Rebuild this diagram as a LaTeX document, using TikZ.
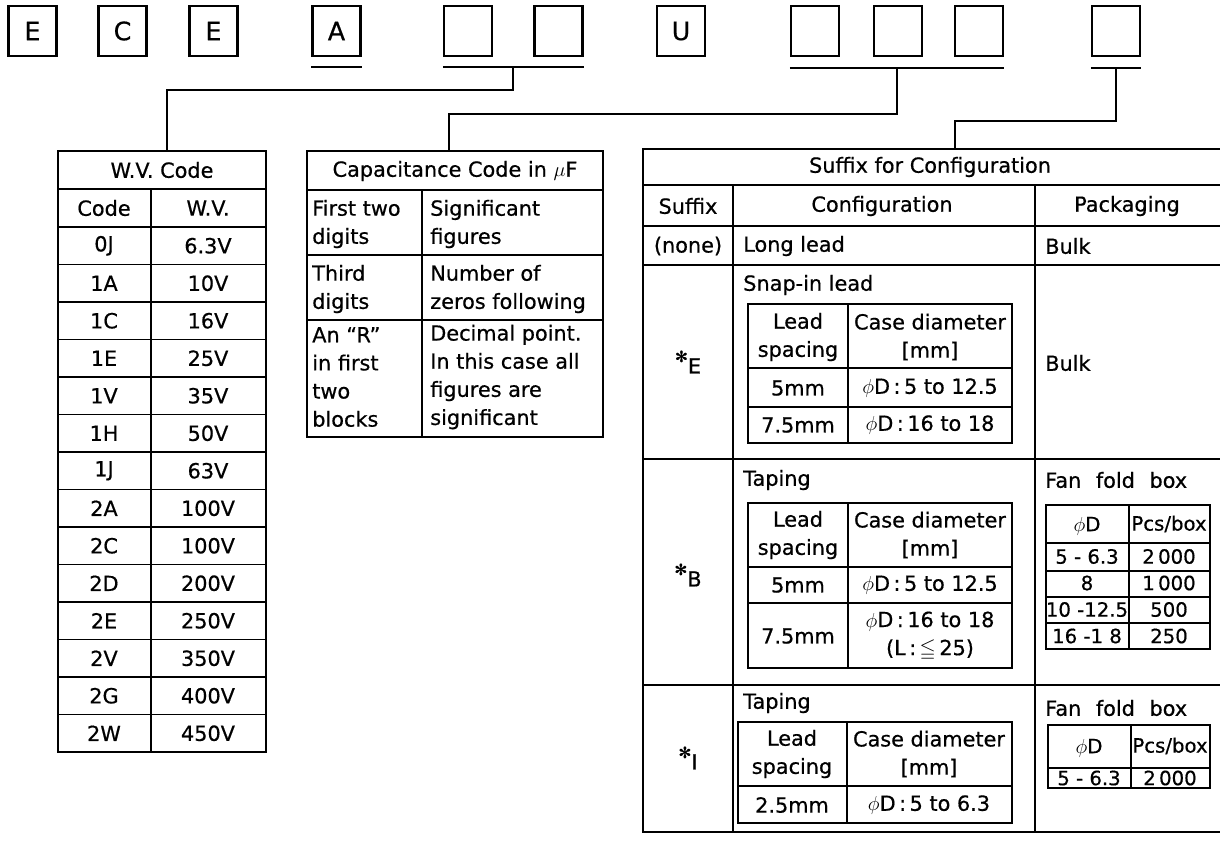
\documentclass[tikz,border=0pt]{standalone}
\usepackage{fontspec,amssymb}
\setmainfont{DejaVu Sans}[FakeBold=0.6]
\usetikzlibrary{positioning,calc}
\tikzset{
  letbox/.style={draw,line width=1.6pt,minimum width=1.2cm,minimum height=1.25cm,inner sep=0pt,font=\fontsize{18}{20}\selectfont},
  txt/.style={inner sep=0pt,align=center,font=\fontsize{14.8}{20}\selectfont},
  ltxt/.style={txt,align=left,anchor=west},
  stxt/.style={txt,font=\fontsize{14}{18}\selectfont},
  tline/.style={line width=1.4pt},
  frame/.style={line width=1.9pt},
  conn/.style={line width=1.5pt}
}
\newcommand{\astr}{\raisebox{.55em}{\fontsize{11}{11}\selectfont ✻}}

\begin{document}
\begin{tikzpicture}[x=0.025cm,y=-0.025cm]
  \useasboundingbox (0,0) rectangle (1220,842);

  % part number boxes
  \node[letbox] (p1) at (32.5,31) {E};
  \node[letbox] (p2) at (122.5,31) {C};
  \node[letbox] (p3) at (213.5,31) {E};
  \node[letbox] (p4) at (336.5,31) {A};
  \node[letbox] (p5) at (468,31) {};
  \node[letbox] (p6) at (558.5,31) {};
  \node[letbox] (p7) at (681,31) {U};
  \node[letbox] (p8) at (815,31) {};
  \node[letbox] (p9) at (898,31) {};
  \node[letbox] (p10) at (979,31) {};
  \node[letbox] (p11) at (1116,31) {};

  % underlines
  \draw[conn] ($(p4.south west)+(0,10)$) -- ($(p4.south east)+(0,10)$);
  \draw[conn] ($(p5.south west)+(0,10)$) coordinate (wva) -- ($(p6.south east)+(0,10)$) coordinate (wvb);
  \draw[conn] ($(p8.south west)+(0,11)$) coordinate (capa) -- ($(p10.south east)+(0,11)$) coordinate (capb);
  \draw[conn] ($(p11.south west)+(0,11)$) coordinate (sfa) -- ($(p11.south east)+(0,11)$) coordinate (sfb);

  \coordinate (wvtap) at ($(wva)!0.5!(wvb)$);
  \coordinate (captap) at ($(capa)!0.5!(capb)$);
  \coordinate (sftap) at ($(sfa)!0.5!(sfb)$);
  \coordinate (wvin) at (167,151);
  \coordinate (capin) at (449,151);
  \coordinate (sfin) at (955,149);

  \draw[conn] (wvtap) -- ++(0,23) -| (wvin);
  \draw[conn] (captap) -- ++(0,46) -| (capin);
  \draw[conn] (sftap) -- ++(0,53) -| (sfin);

  % W.V. code table
  \draw[frame] (58,151) rectangle (266,752);
  \draw[tline] (58,189) -- (266,189);
  \draw[tline] (151,189) -- (151,752);
  \foreach \i in {0,...,13}
    \draw[tline] (58,227+37.5*\i) -- (266,227+37.5*\i);
  \node[txt] (wvhead) at (162,170) {W.V. Code};
  \node[txt] (wvcode) at (104,208) {Code};
  \node[txt] (wvvolt) at (208,208) {W.V.};
  \foreach \c/\v [count=\i] in {0J/6.3V,1A/10V,1C/16V,1E/25V,1V/35V,1H/50V,1J/63V,2A/100V,2C/100V,2D/200V,2E/250V,2V/350V,2G/400V,2W/450V} {
    \node[txt] (wvc\i) at (104,208.25+37.5*\i) {\c};
    \node[txt] (wvv\i) at (208,208.25+37.5*\i) {\v};
  }

  % capacitance table
  \draw[frame] (307,151) rectangle (603,437);
  \draw[tline] (307,190) -- (603,190);
  \draw[tline] (422,190) -- (422,437);
  \draw[tline] (307,255) -- (603,255);
  \draw[tline] (307,320) -- (603,320);
  \node[txt] (caphead) at (455,171) {Capacitance Code in $\mu$F};
  \node[ltxt] (capl1) at (312,224) {First two\\digits};
  \node[ltxt] (capr1) at (430,224) {Significant\\figures};
  \node[ltxt] (capl2) at (312,289) {Third\\digits};
  \node[ltxt] (capr2) at (430,289) {Number of\\zeros following};
  \node[ltxt] (capl3) at (312,377) {An ``R''\\in first\\two\\blocks};
  \node[ltxt] (capr3) at (430,377) {Decimal point.\\In this case all\\figures are\\significant};

  % suffix table
  \draw[frame] (643,149) rectangle (1224,832);
  \foreach \y in {185,265,459,685}
    \draw[tline] (643,\y) -- (1224,\y);
  \draw[frame] (643,226) -- (1224,226);
  \draw[tline] (733,185) -- (733,832);
  \draw[tline] (1035,185) -- (1035,832);
  \node[txt] (sfhead) at (930,167) {Suffix for Configuration};
  \node[txt] (sfsuf) at (688,206) {Suffix};
  \node[txt] (sfcfg) at (882,206) {Configuration};
  \node[txt] (sfpak) at (1127,206) {Packaging};

  \node[txt] (sf0) at (688,246) {(none)};
  \node[ltxt] (cfg0) at (743,246) {Long lead};
  \node[ltxt] (pak0) at (1045,246) {Bulk};

  \node[txt] (sfE) at (688,362) {\astr E};
  \node[ltxt] (cfgE) at (743,285) {Snap-in lead};
  \node[ltxt] (pakE) at (1045,363) {Bulk};
  \draw[tline] (748,304) rectangle (1012,443);
  \draw[tline] (748,368) -- (1012,368);
  \draw[tline] (748,407) -- (1012,407);
  \draw[tline] (848,304) -- (848,443);
  \node[txt] (eh1) at (798,337) {Lead\\spacing};
  \node[txt] (eh2) at (930,337) {Case diameter\\{[mm]}};
  \node[txt] (ea1) at (798,388) {5mm};
  \node[txt] (ea2) at (930,388) {$\phi$D\,:\,5 to 12.5};
  \node[txt] (eb1) at (798,425) {7.5mm};
  \node[txt] (eb2) at (930,425) {$\phi$D\,:\,16 to 18};

  \node[txt] (sfB) at (688,575) {\astr B};
  \node[ltxt] (cfgB) at (743,480) {Taping};
  \node[ltxt] (pakB) at (1045,480) {Fan\hspace{.7em}fold\hspace{.7em}box};
  \draw[tline] (748,503) rectangle (1012,668);
  \draw[tline] (748,567) -- (1012,567);
  \draw[tline] (748,603) -- (1012,603);
  \draw[tline] (848,503) -- (848,668);
  \node[txt] (bh1) at (798,535) {Lead\\spacing};
  \node[txt] (bh2) at (930,535) {Case diameter\\{[mm]}};
  \node[txt] (ba1) at (798,585) {5mm};
  \node[txt] (ba2) at (930,585) {$\phi$D\,:\,5 to 12.5};
  \node[txt] (bb1) at (798,636) {7.5mm};
  \node[txt] (bb2) at (930,636) {$\phi$D\,:\,16 to 18\\(L\,:\,$\leqq$\,25)};
  \draw[tline] (1046,505) rectangle (1210,649);
  \foreach \y in {543,571,597,623}
    \draw[tline] (1046,\y) -- (1210,\y);
  \draw[tline] (1129,505) -- (1129,649);
  \node[stxt] (fbh1) at (1087,526) {$\phi$D};
  \node[stxt] (fbh2) at (1169,524) {Pcs/box};
  \foreach \d/\n [count=\i] in {5 - 6.3/2\,000,8/1\,000,10 -12.5/500,16 -1 8/250} {
    \node[stxt] (fbd\i) at (1087,530+26.5*\i) {\d};
    \node[stxt] (fbn\i) at (1169,530+26.5*\i) {\n};
  }

  \node[txt] (sfI) at (688,758) {\astr I};
  \node[ltxt] (cfgI) at (743,703) {Taping};
  \node[ltxt] (pakI) at (1045,708) {Fan\hspace{.7em}fold\hspace{.7em}box};
  \draw[tline] (738,722) rectangle (1012,823);
  \draw[tline] (738,786) -- (1012,786);
  \draw[tline] (847,722) -- (847,823);
  \node[txt] (ih1) at (792,754) {Lead\\spacing};
  \node[txt] (ih2) at (929,754) {Case diameter\\{[mm]}};
  \node[txt] (ia1) at (792,805) {2.5mm};
  \node[txt] (ia2) at (929,805) {$\phi$D\,:\,5 to 6.3};
  \draw[tline] (1048,725) rectangle (1210,788);
  \draw[tline] (1048,768) -- (1210,768);
  \draw[tline] (1131,725) -- (1131,788);
  \node[stxt] (fih1) at (1089,748) {$\phi$D};
  \node[stxt] (fih2) at (1170,746) {Pcs/box};
  \node[stxt] (fid1) at (1089,778) {5 - 6.3};
  \node[stxt] (fin1) at (1170,778) {2\,000};
\end{tikzpicture}
\end{document}
